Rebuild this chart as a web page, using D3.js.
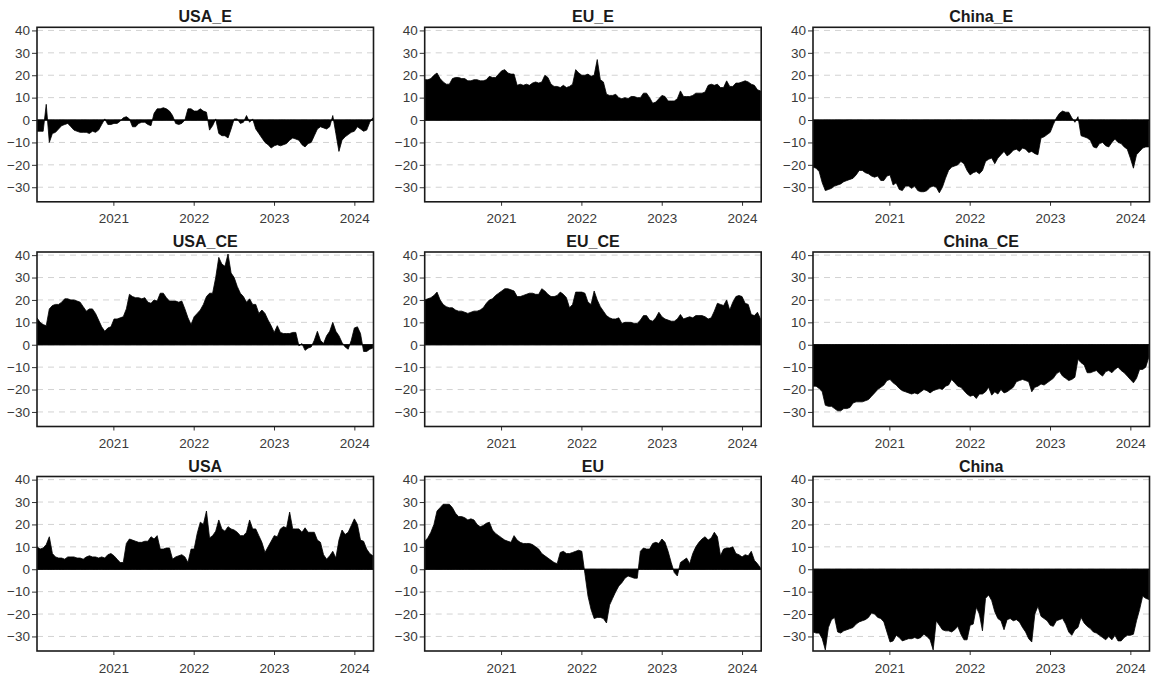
<!DOCTYPE html>
<html>
<head>
<meta charset="utf-8">
<script src="https://cdn.jsdelivr.net/npm/d3@7"></script>
<style>
  body { margin: 0; background: #fff; }
  svg { display: block; }
</style>
</head>
<body>
<svg id="chart" width="1152" height="678"></svg>
<script>
// Panel titles, in reading order (3 x 3 grid)
const panelNames = ["USA_E", "EU_E", "China_E", "USA_CE", "EU_CE", "China_CE", "USA", "EU", "China"];

// Fortnightly readings, starting 2020-01-20
const startDate = new Date(2020, 0, 20);
const endDate = new Date(2024, 2, 28);
const stepDays = 14;

const usaE = [
  -5,-5,-5,7,-10,-6,-5.5,-4,-2.5,-2,
  -1.5,-3,-4.5,-5,-5.5,-5.5,-5.5,-6,-5,-5.5,
  -4.5,-2,0.5,-2,-2,-1.5,-1.5,-0.5,1,1.5,
  0.5,-3,-3,-1.5,-1,-1,-2,-2.5,3,5,
  5,5.5,5,4,2,-1.5,-2,-1.5,0,5,
  5,4,4,5,4,3.5,-4.5,-2.5,0.5,-6,
  -7,-7,-8,-4,0.5,0.5,-1.5,-1,2,-1,
  0.5,-4,-6,-8,-10,-11,-12.5,-11.5,-11,-11.5,
  -11,-10.5,-9,-8,-8.5,-9,-11,-12,-10.5,-10,
  -7,-4,-3,-3.5,-4,-3,2,-6,-14,-9,
  -7.5,-6.5,-5.5,-5,-3,-4,-5,-4.5,-1,1
];
const euE = [
  18,18,18.5,20,21,18.5,17,16,16,18.5,
  19,19,18.5,18.5,17.5,17.5,18,18,17.5,17.5,
  18,19.5,19,19,20.5,22,22.5,21,20.5,20.5,
  15.5,16,15.5,16,15.5,16.5,17,16.5,17,20,
  19,16,15,15,14.5,15.5,14.5,15,16,22.5,
  21,20,20,20.5,19.5,20,27,18,17,11.5,
  11,11,11.5,10,9.5,10,9.5,10.5,10.5,10,
  10,12,12,10,7.5,8,9.5,11,10.5,8.5,
  8.5,8.5,9.5,13,10.5,10.5,10.5,11,12,12,
  12,12.5,15.5,16,15.5,16,14.5,14.5,17.5,15,
  15,16.5,16.5,17,17.5,17,16,15.5,13.5,13
];
const chinaE = [
  -21,-21.5,-23,-28,-31.5,-31,-30.5,-29.5,-29,-28.5,
  -27.5,-27,-26.5,-26,-24.5,-22.5,-22.5,-23.5,-24,-25,
  -25.5,-25,-27,-27,-25,-24.5,-29,-28,-31,-31.5,
  -29.5,-29.5,-30.5,-29.5,-31.5,-32,-32,-31.5,-30,-29.5,
  -30,-32.5,-30,-26,-22.5,-21,-20.5,-20,-18.5,-19.5,
  -22.5,-24.5,-23.5,-23,-24,-22.5,-18.5,-17.5,-17,-19.5,
  -17,-15.5,-14,-16,-15,-13.5,-13,-14,-12.5,-13,
  -14.5,-14,-15,-15.5,-8,-7.5,-6.5,-5.5,-2,1,
  3,4,3.5,3.5,1,-1,1.5,-7,-7.5,-8,
  -9,-12,-12.5,-10.5,-10,-11.5,-12,-10,-8.5,-10,
  -10.5,-12,-13,-17,-21.5,-15.5,-14,-12.5,-12,-12
];
const usaCE = [
  12,10,9,8.5,16,17.5,18,18,19,20.5,
  20.5,20,20,19.5,19,17,15,16,16,14,
  11,8,6,7.5,8,11.5,11.5,12,12.5,16,
  22.5,21.5,21,21,20.5,21,19,18.5,20,19.5,
  23,23,21,19.5,19.5,19.5,19,19.5,16,12,
  9,12.5,14,15.5,18,21.5,23,23,30,39,
  36,35,40.5,32,30,26,23,21.5,19,20.5,
  18,18,14,15.5,14,11,8.5,5.5,8.5,5.5,
  5,5,5,5.5,5.5,-0.5,0.5,-2.5,-1.5,-1,
  2,6,2,0.5,4,6,10,6,4,1,
  -1,-2,2,7.5,8,5,-3,-3,-2,-1.5
];
const euCE = [
  20,20.5,21,22,23.5,20,18,17,16.5,16.5,
  15.5,15,15,14.5,14,14.5,15,15,15.5,16.5,
  18.5,20,20.5,22,23,24,25,25,24.5,24,
  21.5,21.5,22,22.5,23,23,22.5,22.5,25,24,
  22.5,21.5,21.5,22,23.5,22.5,21,16.5,18,23.5,
  23.5,23.5,23,19,18,24,20,17,15,13,
  12,11.5,11.5,12,9.5,10,10,10,9.5,9.5,
  11,13,13,11,10.5,12,14.5,12.5,11.5,11,
  10.5,10.5,11.5,13.5,11.5,12,12.5,12,13,13,
  13,12.5,11.5,12,15,18.5,18,17.5,20,15.5,
  19,21.5,22,21.5,18.5,18,13.5,13,14.5,11.5
];
const chinaCE = [
  -18.5,-18.5,-19.5,-21,-27,-27.5,-27.5,-28.5,-29.5,-29.5,
  -28.5,-28.5,-28,-26,-25.5,-25.5,-25.5,-25,-24.5,-23,
  -21.5,-20,-19,-18,-16,-15.5,-17,-18,-19.5,-20.5,
  -21,-21.5,-22,-21.5,-22,-21,-20,-20.5,-21.5,-20.5,
  -20,-19.5,-20,-18.5,-18,-15.5,-17,-18.5,-19,-20.5,
  -22,-23,-22.5,-24,-22,-22,-21,-19,-22.5,-21,
  -22,-20,-21.5,-21,-20,-19,-16.5,-16,-15.5,-16,
  -16.5,-21,-19,-18.5,-17.5,-18,-17,-16,-15,-13,
  -12,-14,-15,-16,-15.5,-14.5,-6.5,-8,-9,-12.5,
  -12.5,-12,-11.5,-13,-14,-12,-11.5,-12.5,-11,-10,
  -11.5,-12.5,-14,-15.5,-17,-15,-11,-11,-10,-5.5
];
const usa = [
  10,9,9.5,11,14.5,7,5.5,5,5,4.5,
  5.5,5.5,5.5,5,5,4.5,5.5,6,5.5,5.5,
  5,5.5,5,6.5,7,6,4.5,3,3,11.5,
  13.5,13,12.5,12,12,12.5,12.5,14.5,13.5,15,
  9,9,9.5,9.5,4.5,5.5,6,6.5,5.5,3,
  9,9,16,21,20,26,14,15,17,22,
  18,17,19,18,17.5,16.5,15,15,16.5,22,
  18,18,15,12,7.5,10,12.5,15,14.5,18,
  19,18.5,25.5,18,18,18,16.5,18.5,16.5,16.5,
  16.5,13,12,6.5,4.5,6,8,5,13,17.5,
  15.5,16.5,19.5,22.5,20,13,12.5,9,7,6
];
const eu = [
  12.5,14,16.5,20,26,27.5,29,29,29,27.5,
  25,23.5,23.5,23,22,22.5,22,20,19,19.5,
  20.5,21,17.5,16,15,14,13,12.5,12,15,
  13,12,11.5,11.5,11.5,11,10,9,7,6,
  5,4,3,2.5,7.5,8,7,7,7.5,8,
  8.5,8,-2,-12,-18,-22,-21.5,-21.5,-22,-24,
  -16,-13,-10,-7.5,-6,-4,-3,-3.5,-4,-4,
  8,9.5,9,9,11.5,12,11.5,13.5,12,8,
  3,-1.5,-3,3,4,5,2.5,7,10,12,
  13.5,14.5,13,14,16.5,14.5,6,9,9.5,9.5,
  10,7,6.5,5.5,6.5,6,8,4,2.5,0.5
];
const china = [
  -28,-28.5,-28.5,-31,-36,-26,-22.5,-21.5,-28,-28.5,
  -27.5,-27,-26.5,-26,-24.5,-23.5,-23,-22.5,-21.5,-19.5,
  -20,-21.5,-22,-23.5,-28,-32.5,-32,-29.5,-30.5,-32,
  -31.5,-31,-31,-30.5,-31,-30.5,-29,-30,-31.5,-36,
  -23,-25,-27,-27.5,-27.5,-28,-27,-25.5,-29,-31.5,
  -31.5,-25,-24.5,-17,-20,-27.5,-13,-11.5,-14,-19,
  -22,-23,-27,-22.5,-22,-23,-22.5,-23.5,-26,-28,
  -31,-32.5,-20,-16.5,-21,-22,-23,-25,-25.5,-23,
  -22.5,-22,-24.5,-28,-29.5,-27,-26,-21.5,-24,-25.5,
  -26.5,-28,-28.5,-29.5,-30.5,-31.5,-30,-31.5,-29.5,-32,
  -32,-30.5,-29.5,-29.5,-29,-23,-18,-12,-13,-13.5
];

const yTicks = [-30, -20, -10, 0, 10, 20, 30, 40];
const xTickYears = [2021, 2022, 2023, 2024];

const seriesList = [usaE, euE, chinaE, usaCE, euCE, chinaCE, usa, eu, china];

// Layout of the 3 x 3 grid
const colLeft = [37, 424.7, 813];
const panelW = 336.5;
const rowTop = [27.3, 252, 476.5];
const panelH = 174.5;

const font = "'Liberation Sans', Arial, Helvetica, sans-serif";
const svg = d3.select("#chart");

const x = d3.scaleTime().domain([startDate, endDate]).range([0, panelW]);
const y = d3.scaleLinear().domain([-36.5, 41.4]).range([panelH, 0]);

const area = d3.area()
  .x(d => x(d.date))
  .y0(y(0))
  .y1(d => y(d.v))
  .curve(d3.curveLinear);

panelNames.forEach((name, k) => {
  const r = Math.floor(k / 3), c = k % 3;
  const data = seriesList[k].map((v, i) => ({ date: d3.timeDay.offset(startDate, i * stepDays), v }));
  const g = svg.append("g").attr("transform", `translate(${colLeft[c]},${rowTop[r]})`);

  const clipId = "clip" + k;
  g.append("clipPath").attr("id", clipId)
    .append("rect").attr("width", panelW).attr("height", panelH);

  // dashed horizontal grid
  g.selectAll("line.grid").data(yTicks).join("line")
    .attr("class", "grid")
    .attr("x1", 0).attr("x2", panelW)
    .attr("y1", d => y(d)).attr("y2", d => y(d))
    .attr("stroke", "#d2d2d2").attr("stroke-width", 1)
    .attr("stroke-dasharray", "6,5");

  // filled series
  g.append("path").datum(data)
    .attr("clip-path", `url(#${clipId})`)
    .attr("d", area)
    .attr("fill", "#000")
    .attr("stroke", "#000")
    .attr("stroke-width", 0.8)
    .attr("stroke-linejoin", "miter");

  // zero baseline
  g.append("line")
    .attr("x1", 0).attr("x2", panelW)
    .attr("y1", y(0)).attr("y2", y(0))
    .attr("stroke", "#000").attr("stroke-width", 1.2);

  // axes
  const ya = g.append("g").call(d3.axisLeft(y).tickValues(yTicks).tickSize(5).tickPadding(2));
  const xa = g.append("g").attr("transform", `translate(0,${panelH})`)
    .call(d3.axisBottom(x)
      .tickValues(xTickYears.map(yr => new Date(yr, 0, 1)))
      .tickFormat(d3.timeFormat("%Y"))
      .tickSize(4).tickPadding(8));
  [ya, xa].forEach(a => {
    a.select(".domain").remove();
    a.selectAll(".tick line").attr("stroke", "#333").attr("stroke-width", 1);
    a.selectAll(".tick text")
      .attr("fill", "#3a3a3a")
      .style("font-family", font)
      .style("font-size", "13.5px");
  });

  // panel border
  g.append("rect")
    .attr("width", panelW).attr("height", panelH)
    .attr("fill", "none").attr("stroke", "#1a1a1a").attr("stroke-width", 1.6);

  // title
  g.append("text")
    .attr("x", panelW / 2).attr("y", -5)
    .attr("text-anchor", "middle")
    .style("font-family", font)
    .style("font-size", "16px")
    .style("font-weight", "bold")
    .attr("fill", "#1a1a1a")
    .text(name);
});
</script>
</body>
</html>
